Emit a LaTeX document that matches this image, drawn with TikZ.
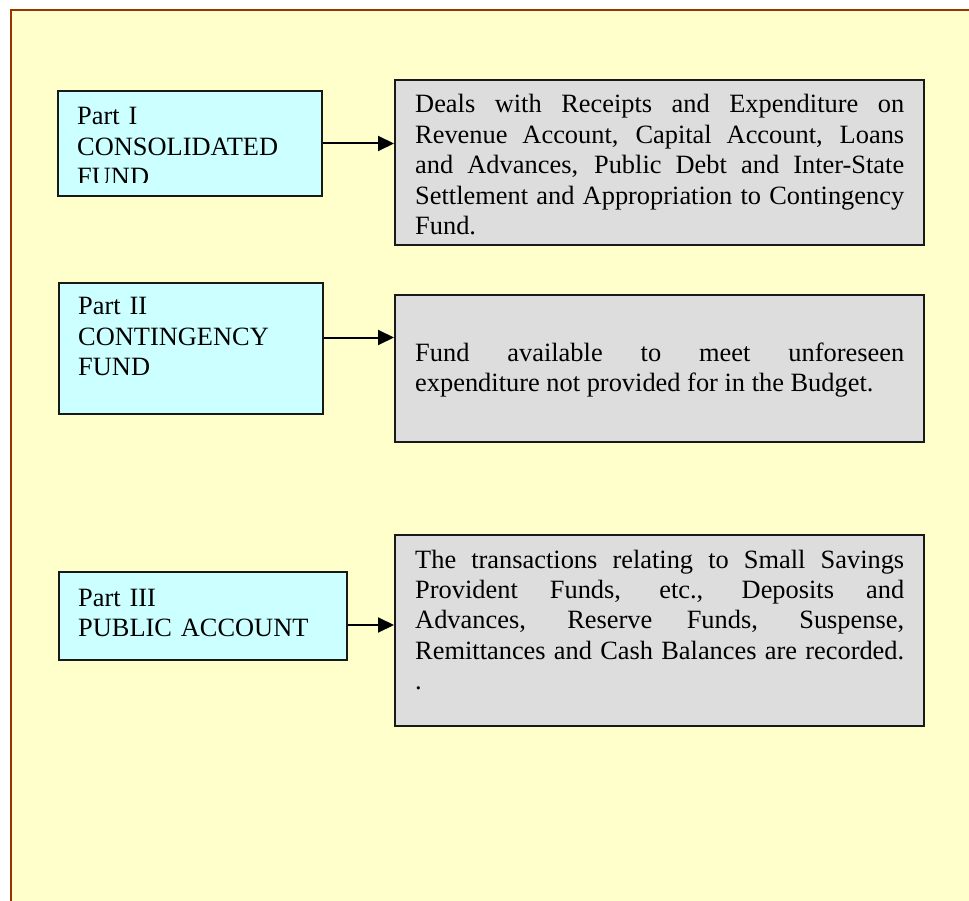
\documentclass[tikz,border=0pt]{standalone}
\usepackage{fontspec}
\setmainfont{Liberation Serif}
\usetikzlibrary{arrows.meta}
\definecolor{pagebg}{HTML}{FFFFCC}
\definecolor{framebrown}{HTML}{993300}
\definecolor{fundcyan}{HTML}{CCFFFF}
\definecolor{descgray}{HTML}{DDDDDD}
\newcommand{\fullline}[1]{\makebox[489pt][s]{#1}}

\begin{document}
\begin{tikzpicture}[x=1pt, y=-1pt,
    fundbox/.style={rectangle, draw=black!90, line width=2pt, fill=fundcyan, anchor=north west, inner sep=0pt},
    descbox/.style={rectangle, draw=black!90, line width=2pt, fill=descgray, anchor=north west, inner sep=0pt},
    fundtext/.style={anchor=base west, inner sep=0pt, text width=260pt, align=left, font=\fontsize{26.4}{30.4}\selectfont},
    desctext/.style={anchor=base west, inner sep=0pt, text width=489pt, align=justify, font=\fontsize{26.4}{30.4}\selectfont},
    link/.style={-{Triangle[length=16pt, width=15pt]}, line width=2pt}
]
    \clip (0,0) rectangle (969,901);
    % Rahmen
    \fill[white] (0,0) rectangle (969,901);
    \draw[framebrown, line width=2pt, fill=pagebg] (11,10) rectangle (990,920);

    % Fonds
    \node[fundbox, minimum width=264pt, minimum height=105pt] (cons) at (57,90) {};
    \node[fundbox, minimum width=264pt, minimum height=131pt] (cont) at (58,282) {};
    \node[fundbox, minimum width=288pt, minimum height=88pt] (pub) at (58,571) {};

    % Beschreibungen
    \node[descbox, minimum width=529pt, minimum height=165pt] (consd) at (394,79) {};
    \node[descbox, minimum width=529pt, minimum height=147pt] (contd) at (394,294) {};
    \node[descbox, minimum width=529pt, minimum height=191pt] (pubd) at (394,534) {};

    % Texte
    \begin{scope}
        \clip (57,90) rectangle (321,183);
        \node[fundtext] (const) at (77,125) {Part I\\CONSOLIDATED\\FUND};
    \end{scope}
    \node[fundtext] (contt) at (78,315) {Part II\\CONTINGENCY\\FUND};
    \node[fundtext] (pubt) at (78,606) {Part III\\PUBLIC ACCOUNT};

    \begin{scope}
        \clip (394,79) rectangle (923,235);
        \node[desctext] (consdt) at (415,113) {\fullline{Deals with Receipts and Expenditure on}\\
            \fullline{Revenue Account, Capital Account, Loans}\\
            \fullline{and Advances, Public Debt and Inter-State}\\
            \fullline{Settlement and Appropriation to Contingency}\\
            Fund.};
    \end{scope}
    \node[desctext] (contdt) at (415,361) {\fullline{Fund available to meet unforeseen}\\
        expenditure not provided for in the Budget.};
    \node[desctext] (pubdt) at (415,568) {\fullline{The transactions relating to Small Savings}\\
        \fullline{Provident Funds, etc., Deposits and}\\
        \fullline{Advances, Reserve Funds, Suspense,}\\
        \fullline{Remittances and Cash Balances are recorded.}\\
        .};

    % Verbindungen
    \draw[link] (cons.east) -- (cons.east -| consd.west);
    \draw[link] ([yshift=11pt]cont.east) -- ([yshift=11pt]cont.east -| contd.west);
    \draw[link] ([yshift=-9pt]pub.east) -- ([yshift=-9pt]pub.east -| pubd.west);
\end{tikzpicture}
\end{document}
